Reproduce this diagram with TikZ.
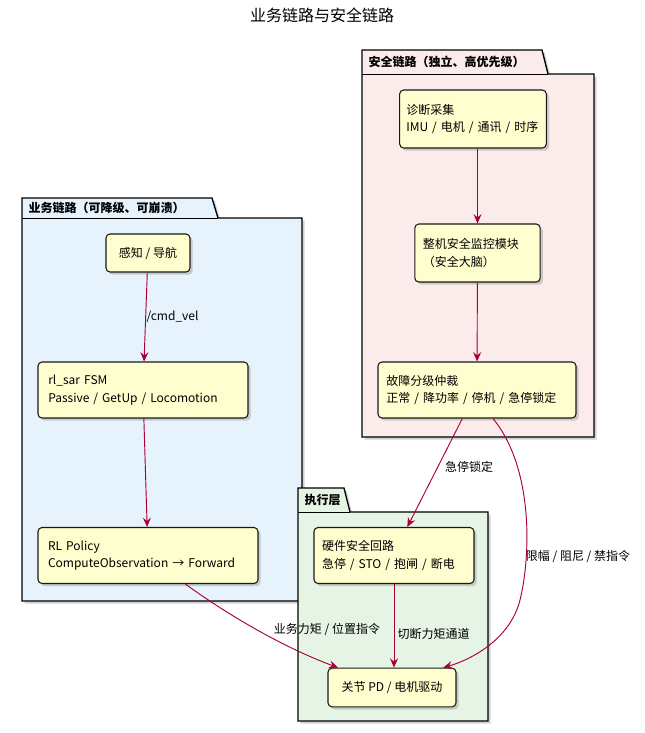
\documentclass[tikz,border=0pt]{standalone}
\usepackage{fontspec}
\setmainfont{Noto Sans CJK SC}
\usetikzlibrary{arrows.meta,shadows,positioning}
\definecolor{nodefill}{HTML}{FEFECE}
\definecolor{linkred}{HTML}{A80036}
\definecolor{pkgblue}{HTML}{E6F2FC}
\definecolor{pkgpink}{HTML}{FCEBEB}
\definecolor{pkggreen}{HTML}{E5F4E5}
\tikzset{
  state/.style={draw=black!90, fill=nodefill, rounded corners=3pt, line width=0.8pt,
    align=left, font=\fontsize{9}{13}\selectfont, inner sep=0pt,
    drop shadow={shadow xshift=2pt, shadow yshift=-2pt, opacity=0.35}},
  pkg/.style={draw=black, line width=1pt, drop shadow={shadow xshift=2pt, shadow yshift=-2pt, opacity=0.35}},
  pkglabel/.style={font=\bfseries\fontsize{9}{11}\selectfont, anchor=west},
  link/.style={draw=linkred, line width=0.7pt, -{Stealth[length=7pt, width=6pt, inset=2.5pt]}},
  lbl/.style={font=\fontsize{9}{11}\selectfont, fill=none}
}
\begin{document}
\begin{tikzpicture}[x=0.75pt, y=-0.75pt]
\useasboundingbox (0,0) rectangle (645,733);
\node (title) at (322,15) {\fontsize{12}{14}\selectfont 业务链路与安全链路};

% packages
\draw [pkg, fill=pkgblue] (22,601) -- (22,198) -- (212,198) -- (218,218) -- (302,218) -- (302,601) -- cycle;
\draw (22,218) -- (218,218);
\node [pkglabel] (bizpkg) at (24,208) {业务链路（可降级、可崩溃）};

\draw [pkg, fill=pkgpink] (362,437) -- (362,50) -- (542,50) -- (548,74) -- (594,74) -- (594,437) -- cycle;
\draw (362,74) -- (548,74);
\node [pkglabel] (safepkg) at (364,62) {安全链路（独立、高优先级）};

\draw [pkg, fill=pkggreen] (298,721) -- (298,488) -- (344,488) -- (350,512) -- (488,512) -- (488,721) -- cycle;
\draw (298,512) -- (350,512);
\node [pkglabel] (actpkg) at (300,500) {执行层};

% business chain
\node [state, minimum width=63pt, minimum height=28.5pt] (sense) at (148,253) {感知 / 导航};
\node [state, minimum width=157.5pt, minimum height=42pt, text width=142pt] (fsm) at (143,390) {rl\_sar FSM\\Passive / GetUp / Locomotion};
\node [state, minimum width=165pt, minimum height=42pt, text width=150pt] (policy) at (148,555.5) {RL Policy\\ComputeObservation → Forward};

% safety chain
\node [state, minimum width=110pt, minimum height=43.5pt, text width=100pt] (diag) at (473,119) {诊断采集\\IMU / 电机 / 通讯 / 时序};
\node [state, minimum width=94pt, minimum height=43.5pt, text width=82pt] (monitor) at (477.5,253) {整机安全监控模块\\（安全大脑）};
\node [state, minimum width=148.5pt, minimum height=42pt, text width=136pt] (arbiter) at (477,390) {故障分级仲裁\\正常 / 降功率 / 停机 / 急停锁定};

% actuation
\node [state, minimum width=120pt, minimum height=42pt, text width=108pt] (hwloop) at (394,555.5) {硬件安全回路\\急停 / STO / 抱闸 / 断电};
\node [state, minimum width=96pt, minimum height=29pt] (joint) at (392,687.5) {关节 PD / 电机驱动};

% connectors
\draw [link] (sense) -- node [lbl, right=-3pt, pos=0.5] {/cmd\_vel} (fsm);
\draw [link] (fsm) -- (policy);
\draw [link] ([xshift=28pt]policy.south) .. controls (235,620) and (290,650) .. ([xshift=8pt]joint.north west);
\node [lbl] (torquelbl) at (327,629) {业务力矩 / 位置指令};
\draw [link] (diag.south -| monitor) -- (monitor);
\draw [link] (monitor) -- (arbiter);
\draw [link] ([xshift=-11pt]arbiter.south) -- node [lbl, right=2pt, pos=0.45] {急停锁定} ([xshift=10pt]hwloop.north);
\draw [link] ([xshift=12pt]arbiter.south) .. controls (535,470) and (530,560) .. (520,600) .. controls (510,640) and (470,660) .. ([xshift=-10pt]joint.north east);
\node [lbl] (limitlbl) at (578,557) {限幅 / 阻尼 / 禁指令};
\draw [link] (hwloop) -- node [lbl, right=-1pt, pos=0.6] {切断力矩通道} (hwloop.south |- joint.north);
\end{tikzpicture}
\end{document}
